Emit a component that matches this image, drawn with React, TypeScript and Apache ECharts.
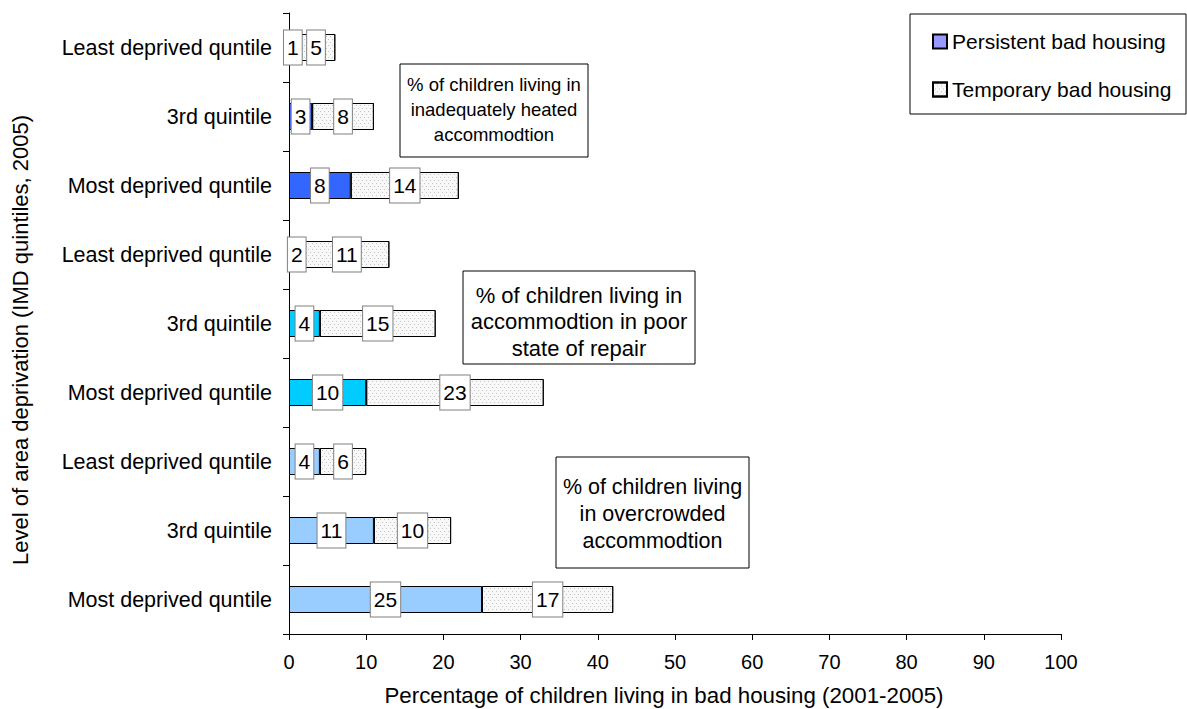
import React, { useEffect, useRef } from "react";
import * as echarts from "echarts";

const categories = [
  "Least deprived quntile",
  "3rd quintile",
  "Most deprived quntile",
  "Least deprived quntile",
  "3rd quintile",
  "Most deprived quntile",
  "Least deprived quntile",
  "3rd quintile",
  "Most deprived quntile",
];
const persistent = [1, 3, 8, 2, 4, 10, 4, 11, 25];
const temporary = [5, 8, 14, 11, 15, 23, 6, 10, 17];
const persistentColors = [
  "#3366FF", "#3366FF", "#3366FF",
  "#00CCFF", "#00CCFF", "#00CCFF",
  "#99CCFF", "#99CCFF", "#99CCFF",
];
const seriesNames = ["Persistent bad housing", "Temporary bad housing"];
const xMin = 0;
const xMax = 100;
const xInterval = 10;
const yAxisTitle = "Level of area deprivation (IMD quintiles, 2005)";
const xAxisTitle = "Percentage of children living in bad housing (2001-2005)";
const boxTexts = [
  "% of children living in\ninadequately heated\naccommodtion",
  "% of children living in\naccommodtion in poor\nstate of repair",
  "% of children living\nin overcrowded\naccommodtion",
];

const FONT = '"Liberation Sans", Arial, sans-serif';

export default function App() {
  const ref = useRef<HTMLDivElement>(null);
  useEffect(() => {
    if (!ref.current) return;
    const chart = echarts.init(ref.current, null, { renderer: "svg" });
    const decal = {
      symbol: "rect",
      symbolSize: 1,
      color: "#c4c4c4",
      dashArrayX: [[1, 3], [0, 2, 1, 1]],
      dashArrayY: [1, 2],
      rotation: 0,
    };
    const labelStyle = {
      show: true,
      position: "inside",
      color: "#000",
      fontSize: 21,
      fontFamily: FONT,
      backgroundColor: "#fff",
      borderColor: "#808080",
      borderWidth: 1,
      padding: [6, 3, 5, 3],
      lineHeight: 23,
    };
    const boxes = [
      { x: 400, y: 64, w: 188, h: 93, fs: 18.5, lh: 25, dy: -1 },
      { x: 463, y: 271, w: 232, h: 93, fs: 22, lh: 26.5, dy: 4 },
      { x: 556, y: 457, w: 193, h: 111, fs: 21.5, lh: 27, dy: 1 },
    ];
    const graphics: any[] = [];
    boxes.forEach((b, i) => {
      graphics.push({
        type: "rect",
        shape: { x: b.x, y: b.y, width: b.w, height: b.h },
        style: { fill: "#fff", stroke: "#000", lineWidth: 1 },
        z: 100,
      });
      graphics.push({
        type: "text",
        x: b.x + b.w / 2,
        y: b.y + b.h / 2 + b.dy,
        style: {
          text: boxTexts[i],
          align: "center",
          verticalAlign: "middle",
          fontSize: b.fs,
          fontFamily: FONT,
          lineHeight: b.lh,
          fill: "#000",
        },
        z: 101,
      });
    });
    graphics.push({
      type: "rect",
      shape: { x: 910, y: 14, width: 276, height: 100 },
      style: { fill: "#fff", stroke: "#000", lineWidth: 1 },
      z: 0,
    });
    graphics.push({
      type: "text",
      x: 20,
      y: 340,
      rotation: Math.PI / 2,
      style: {
        text: yAxisTitle,
        align: "center",
        verticalAlign: "middle",
        fontSize: 22,
        fontFamily: FONT,
        fill: "#000",
      },
    });
    graphics.push({
      type: "text",
      x: 664,
      y: 695,
      style: {
        text: xAxisTitle,
        align: "center",
        verticalAlign: "middle",
        fontSize: 22.3,
        fontFamily: FONT,
        fill: "#000",
      },
    });

    chart.setOption({
      animation: false,
      backgroundColor: "#fff",
      textStyle: { fontFamily: FONT },
      grid: { left: 289, right: 126, top: 13, bottom: 75, containLabel: false },
      legend: {
        data: [
          { name: seriesNames[0] },
          { name: seriesNames[1], itemStyle: { decal: decal } },
        ],
        orient: "vertical",
        left: 927,
        top: 26,
        itemWidth: 14,
        itemHeight: 14,
        itemGap: 27,
        icon: "rect",
        textStyle: { fontSize: 21, fontFamily: FONT, color: "#000" },
        z: 5,
      },
      xAxis: {
        type: "value",
        min: xMin,
        max: xMax,
        interval: xInterval,
        axisLine: { show: true, lineStyle: { color: "#000", width: 1 } },
        axisTick: { show: true, length: 6, lineStyle: { color: "#000" } },
        axisLabel: { fontSize: 20, fontFamily: FONT, color: "#000", margin: 18 },
        splitLine: { show: false },
      },
      yAxis: {
        type: "category",
        data: categories,
        inverse: true,
        axisLine: { show: true, lineStyle: { color: "#000", width: 1 } },
        axisTick: { show: true, length: 6, lineStyle: { color: "#000" } },
        axisLabel: { fontSize: 21.5, fontFamily: FONT, color: "#000", margin: 17 },
        splitLine: { show: false },
      },
      series: [
        {
          name: seriesNames[0],
          type: "bar",
          stack: "total",
          barWidth: 27,
          itemStyle: { color: "#9999FF", borderColor: "#000", borderWidth: 1 },
          label: labelStyle,
          data: persistent.map((v, i) => ({
            value: v,
            itemStyle: { color: persistentColors[i] },
          })),
        },
        {
          name: seriesNames[1],
          type: "bar",
          stack: "total",
          barWidth: 27,
          itemStyle: {
            color: "#f8f8f8",
            borderColor: "#000",
            borderWidth: 1,
            decal: decal,
          },
          label: labelStyle,
          data: temporary,
        },
      ],
      graphic: graphics,
    });
    return () => chart.dispose();
  }, []);
  return (
    <div
      ref={ref}
      style={{ position: "absolute", left: 0, top: 0, width: 1187, height: 709 }}
    />
  );
}
